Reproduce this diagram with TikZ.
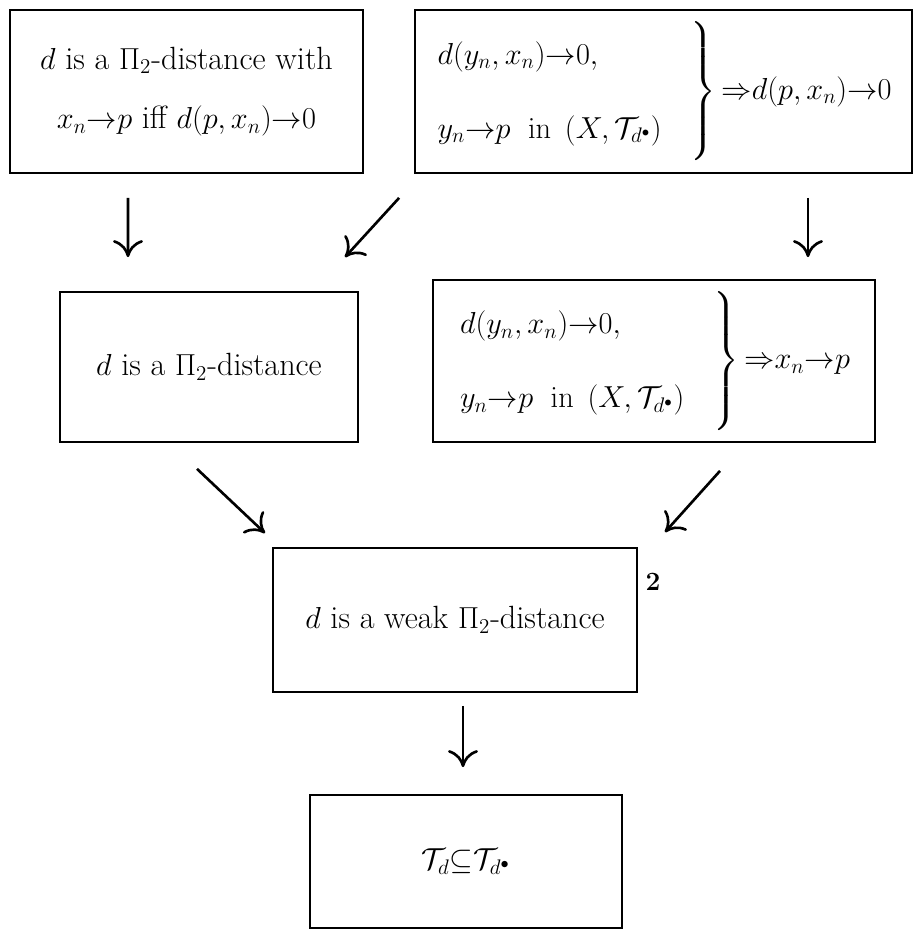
\documentclass[tikz,border=0pt]{standalone}
\usepackage{amsmath,amssymb}
\usetikzlibrary{arrows.meta}
\begin{document}
\begin{tikzpicture}[x=1cm,y=1cm,
  font=\fontsize{18.3}{22}\selectfont,
  box/.style={draw, line width=1pt, inner sep=0pt, align=center},
  cond/.style={font=\fontsize{16.5}{20}\selectfont},
  imp/.style={line width=1.5pt, -{Computer Modern Rightarrow[length=3.4mm,width=6mm]}}]
\useasboundingbox (0,0) rectangle (18.28,-18.64);
\node[box, minimum width=7.06cm, minimum height=3.26cm] (a) at (3.73,-1.83)
  {$d$ is a $\Pi_2$-distance with\\[12pt] $x_n{\to}p$ iff $d(p,x_n){\to}0$};
\node[box, cond, minimum width=9.94cm, minimum height=3.26cm] (b) at (13.27,-1.83)
  {$\left.\begin{array}{@{}l@{\quad}}
    \rule{0pt}{24pt}d(y_n,x_n){\to}0,\\[22pt]
    y_n{\to}p\ \ \mathrm{in}\ \,(X,\mathcal{T}_{d^\bullet})\rule[-13pt]{0pt}{13pt}
   \end{array}\right\}{\Rightarrow}d(p,x_n){\to}0$};
\node[box, minimum width=5.96cm, minimum height=3cm] (c) at (4.18,-7.34)
  {$d$ is a $\Pi_2$-distance};
\node[box, cond, minimum width=8.84cm, minimum height=3.24cm] (d) at (13.08,-7.22)
  {$\left.\begin{array}{@{}l@{\quad}}
    \rule{0pt}{24pt}d(y_n,x_n){\to}0,\\[22pt]
    y_n{\to}p\ \ \mathrm{in}\ \,(X,\mathcal{T}_{d^\bullet})\rule[-13pt]{0pt}{13pt}
   \end{array}\right\}{\Rightarrow}x_n{\to}p$};
\node[box, minimum width=7.28cm, minimum height=2.88cm] (e) at (9.10,-12.40)
  {$d$ is a weak $\Pi_2$-distance};
\node[font=\fontsize{15}{17}\selectfont\bfseries] (fn) at (13.06,-11.64) {2};
\node[box, minimum width=6.24cm, minimum height=2.66cm] (f) at (9.32,-17.23)
  {$\mathcal{T}_d{\subseteq}\mathcal{T}_{d^\bullet}$};
\draw[imp] ([xshift=-1.17cm,yshift=-0.48cm]a.south) -- ([xshift=-1.62cm,yshift=0.68cm]c.north);
\draw[imp] ([xshift=-0.30cm,yshift=-0.48cm]b.south west) -- ([xshift=2.72cm,yshift=0.68cm]c.north);
\draw[imp] ([xshift=2.89cm,yshift=-0.48cm]b.south) -- ([xshift=3.08cm,yshift=0.44cm]d.north);
\draw[imp] ([xshift=-0.24cm,yshift=-0.52cm]c.south) -- ([xshift=-3.80cm,yshift=0.28cm]e.north);
\draw[imp] ([xshift=1.32cm,yshift=-0.56cm]d.south) -- ([xshift=4.20cm,yshift=0.30cm]e.north);
\draw[imp] ([xshift=0.16cm,yshift=-0.26cm]e.south) -- ([xshift=-0.06cm,yshift=0.54cm]f.north);
\end{tikzpicture}
\end{document}
